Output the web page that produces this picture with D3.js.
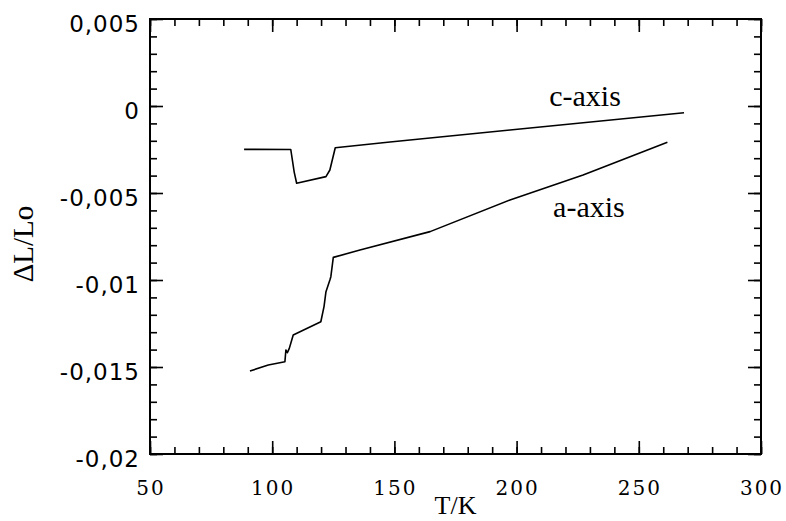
<!DOCTYPE html>
<html>
<head>
<meta charset="utf-8">
<script src="https://cdn.jsdelivr.net/npm/d3@7"></script>
<style>
  body { margin: 0; background: #fff; }
  svg { display: block; }
</style>
</head>
<body>
<div id="main"></div>
<script>
// thermal expansion chart, dL/Lo vs T for both crystal axes

// data
var cT    = [88.5, 107.6, 109, 110, 122, 123.6, 125.8, 148.2, 197.3, 268.5];
var cVals = [-0.00249, -0.0025, -0.0038, -0.00444, -0.00406, -0.00368, -0.0024, -0.00207, -0.00138, -0.000385];

var aT    = [90.9, 98.4, 105.2, 105.6, 106.2, 107, 108, 108.6, 119.9, 121.2, 122, 123.6, 124, 125, 135.9, 164.6, 197.3, 227.2, 261.7];
var aVals = [-0.01523, -0.01489, -0.0147, -0.01402, -0.01418, -0.01393, -0.01345, -0.01316, -0.0124, -0.01153, -0.01067, -0.01, -0.00981, -0.0087, -0.00828, -0.00722, -0.0054, -0.00397, -0.00209];

var xTicks = [50, 100, 150, 200, 250, 300],
    yTicks = [0.005, 0, -0.005, -0.01, -0.015, -0.02],
    yTickLabels = ["0,005", "0", "-0,005", "-0,01", "-0,015", "-0,02"];

var curveLabels = [
  {text: "c-axis", T: 228, v: 0},
  {text: "a-axis", T: 229.6, v: -0.00636}
];

// layout
var width = 786, height = 521,
    margin = {top: 19, right: 25, bottom: 67, left: 150},
    plotW = width - margin.left - margin.right,
    plotH = height - margin.top - margin.bottom;

var svg = d3.select('#main')
  .append('svg')
  .attr("width", width)
  .attr("height", height);

var x = d3.scaleLinear().domain([50, 300]).range([0, plotW]),
    y = d3.scaleLinear().domain([-0.02, 0.005]).range([plotH, 0]);

var g = svg.append('g')
  .attr("transform", "translate(" + margin.left + "," + margin.top + ")");

// minor ticks every 10 K and every 0.001
var xMinor = d3.range(50, 301, 10),
    yMinor = d3.range(-20, 6, 1).map(function(d) { return d / 1000; });

function addAxis(axisFn, scale, vals, size, tx, ty) {
  var a = g.append('g')
    .attr("transform", "translate(" + tx + "," + ty + ")")
    .call(axisFn(scale).tickValues(vals).tickSize(-size).tickFormat(""));
  a.select(".domain").remove();
  a.selectAll("line").attr("stroke", "#000").attr("stroke-width", 1.6);
  return a;
}

// bottom / top
addAxis(d3.axisBottom, x, xMinor, 7, 0, plotH);
addAxis(d3.axisBottom, x, xTicks, 13, 0, plotH);
addAxis(d3.axisTop, x, xMinor, 7, 0, 0);
addAxis(d3.axisTop, x, xTicks, 13, 0, 0);
// left / right
addAxis(d3.axisLeft, y, yMinor, 7, 0, 0);
addAxis(d3.axisLeft, y, yTicks, 13, 0, 0);
addAxis(d3.axisRight, y, yMinor, 7, plotW, 0);
addAxis(d3.axisRight, y, yTicks, 13, plotW, 0);

// frame
g.append('rect')
  .attr("x", 0).attr("y", 0)
  .attr("width", plotW).attr("height", plotH)
  .attr("fill", "none")
  .attr("stroke", "#000")
  .attr("stroke-width", 2);

// tick labels
g.selectAll(".xlab")
  .data(xTicks)
  .enter().append('text')
  .attr("x", function(d) { return x(d) + 1; })
  .attr("y", plotH + 41)
  .attr("text-anchor", "middle")
  .attr("font-family", "DejaVu Serif")
  .attr("font-size", 20)
  .attr("letter-spacing", 2)
  .text(function(d) { return d; });

g.selectAll(".ylab")
  .data(yTicks)
  .enter().append('text')
  .attr("x", -10)
  .attr("y", function(d) { return y(d) + 4.5; })
  .attr("dy", "0.36em")
  .attr("text-anchor", "end")
  .attr("font-family", "DejaVu Sans")
  .attr("font-size", 23)
  .attr("letter-spacing", 1)
  .text(function(d, i) { return yTickLabels[i]; });

// axis titles
svg.append('text')
  .attr("x", margin.left + plotW / 2)
  .attr("y", 514)
  .attr("text-anchor", "middle")
  .attr("font-family", "Liberation Serif")
  .attr("font-size", 26)
  .text("T/K");

svg.append('text')
  .attr("transform", "translate(33,244) rotate(-90)")
  .attr("text-anchor", "middle")
  .attr("font-family", "Liberation Serif")
  .attr("font-size", 29)
  .text("ΔL/Lo");

// curves
var line = d3.line()
  .x(function(d) { return x(d[0]); })
  .y(function(d) { return y(d[1]); });

var series = [d3.zip(cT, cVals), d3.zip(aT, aVals)];

g.selectAll(".curve")
  .data(series)
  .enter().append('path')
  .attr("d", line)
  .attr("fill", "none")
  .attr("stroke", "#000")
  .attr("stroke-width", 1.6)
  .attr("stroke-linejoin", "round");

g.selectAll(".clab")
  .data(curveLabels)
  .enter().append('text')
  .attr("x", function(d) { return x(d.T); })
  .attr("y", function(d) { return y(d.v); })
  .attr("text-anchor", "middle")
  .attr("font-family", "Liberation Serif")
  .attr("font-size", 30)
  .text(function(d) { return d.text; });
</script>
</body>
</html>
